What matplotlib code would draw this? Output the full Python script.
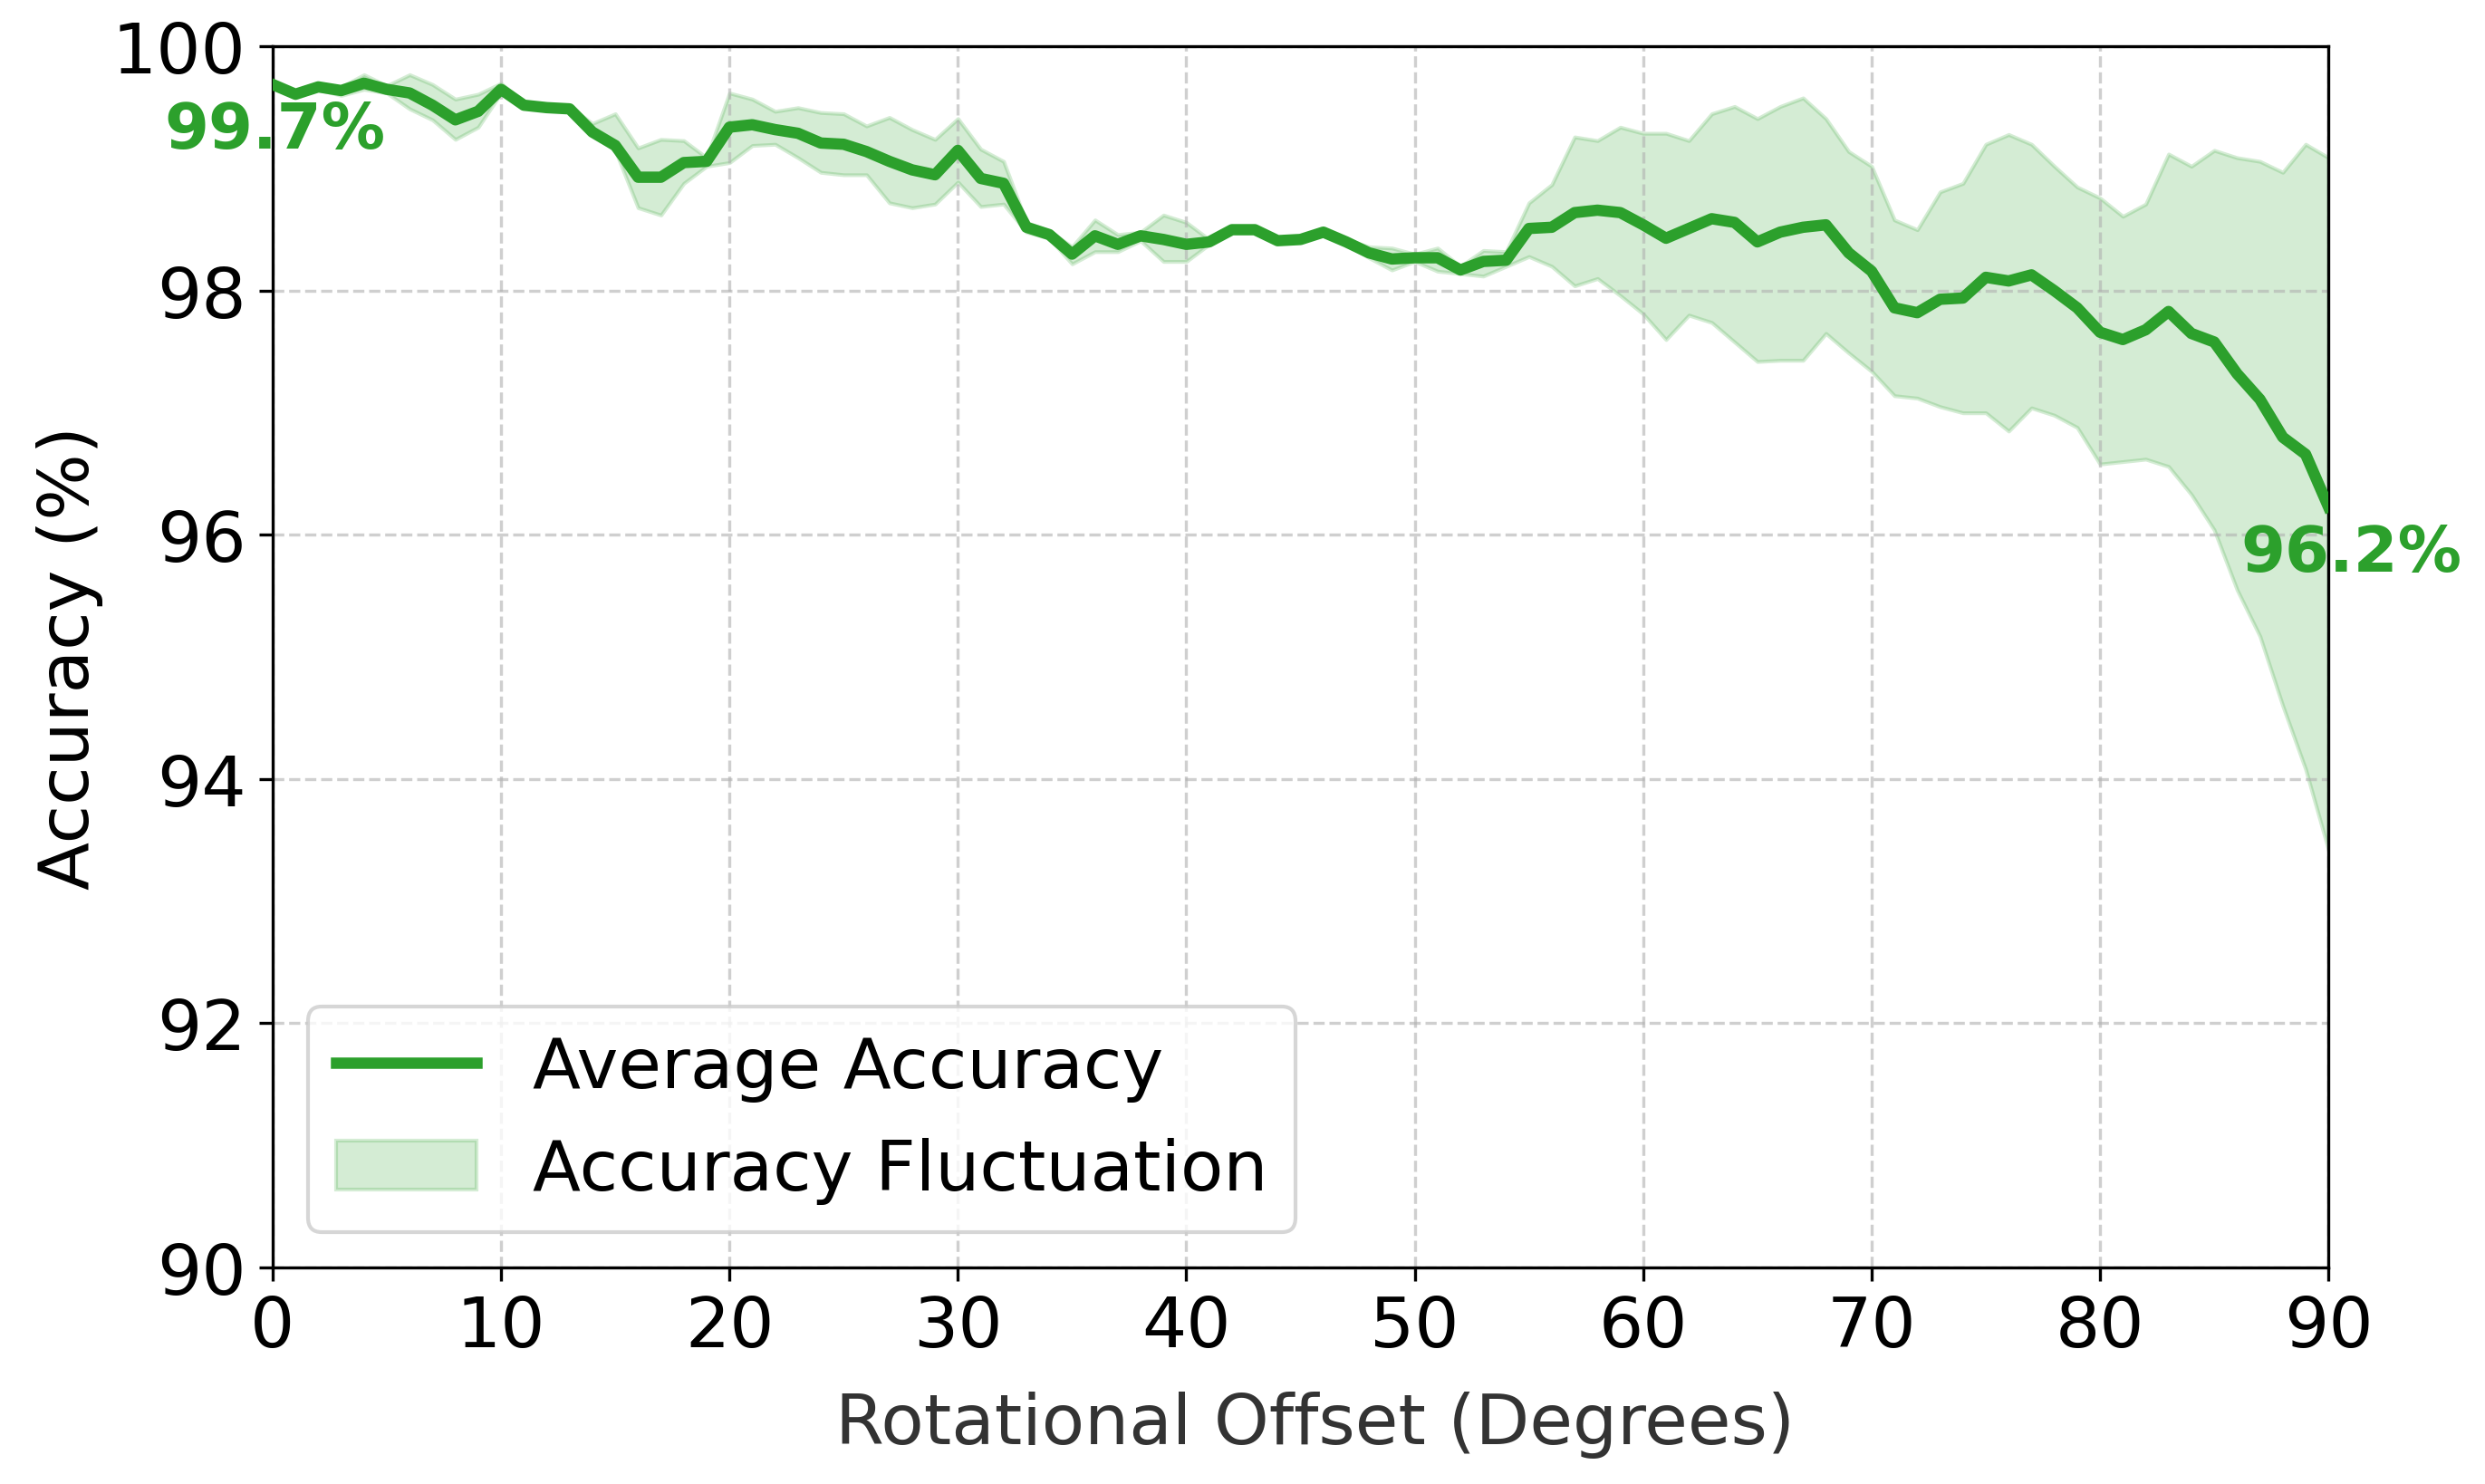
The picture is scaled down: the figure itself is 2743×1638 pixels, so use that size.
import numpy as np
import matplotlib
matplotlib.use("Agg")
import matplotlib.pyplot as plt

# rotational offset in degrees, 0..90 step 1
offsets = list(range(0, 91))

avg_acc = [
    99.69, 99.61, 99.67, 99.64, 99.70, 99.65, 99.62, 99.52, 99.40, 99.47,
    99.65, 99.52, 99.50, 99.49, 99.30, 99.19, 98.93, 98.93, 99.05, 99.06,
    99.34, 99.36, 99.32, 99.29, 99.21, 99.20, 99.14, 99.06, 98.99, 98.95,
    99.15, 98.92, 98.88, 98.52, 98.46, 98.30, 98.45, 98.38, 98.45, 98.42,
    98.38, 98.40, 98.50, 98.50, 98.41, 98.42, 98.48, 98.40, 98.31, 98.26,
    98.27, 98.27, 98.17, 98.24, 98.25, 98.51, 98.52, 98.64, 98.66, 98.64,
    98.54, 98.43, 98.51, 98.59, 98.56, 98.40, 98.48, 98.52, 98.54, 98.31,
    98.16, 97.86, 97.82, 97.93, 97.94, 98.11, 98.08, 98.13, 98.00, 97.86,
    97.66, 97.60, 97.68, 97.83, 97.65, 97.58, 97.32, 97.11, 96.80, 96.66,
    96.23,
]

upper_acc = [
    99.71, 99.63, 99.69, 99.67, 99.77, 99.68, 99.77, 99.69, 99.57, 99.61,
    99.70, 99.54, 99.52, 99.51, 99.37, 99.45, 99.17, 99.24, 99.23, 99.09,
    99.62, 99.57, 99.47, 99.50, 99.46, 99.45, 99.35, 99.42, 99.32, 99.24,
    99.41, 99.16, 99.06, 98.56, 98.49, 98.36, 98.58, 98.46, 98.48, 98.62,
    98.56, 98.42, 98.52, 98.52, 98.43, 98.44, 98.50, 98.42, 98.36, 98.35,
    98.30, 98.35, 98.20, 98.33, 98.32, 98.72, 98.87, 99.26, 99.23, 99.34,
    99.29, 99.29, 99.23, 99.45, 99.51, 99.41, 99.51, 99.58, 99.41, 99.14,
    99.02, 98.58, 98.50, 98.81, 98.88, 99.20, 99.28, 99.20, 99.02, 98.85,
    98.76, 98.61, 98.71, 99.12, 99.02, 99.15, 99.09, 99.06, 98.97, 99.20,
    99.09,
]

lower_acc = [
    99.68, 99.58, 99.65, 99.60, 99.65, 99.62, 99.49, 99.40, 99.24, 99.34,
    99.62, 99.50, 99.48, 99.47, 99.28, 99.15, 98.68, 98.62, 98.88, 99.02,
    99.05, 99.19, 99.20, 99.09, 98.97, 98.95, 98.95, 98.72, 98.68, 98.71,
    98.89, 98.69, 98.71, 98.48, 98.43, 98.22, 98.32, 98.32, 98.41, 98.24,
    98.24, 98.38, 98.48, 98.48, 98.39, 98.40, 98.46, 98.38, 98.27, 98.17,
    98.24, 98.16, 98.14, 98.12, 98.20, 98.28, 98.20, 98.04, 98.10, 97.96,
    97.81, 97.60, 97.80, 97.74, 97.58, 97.42, 97.43, 97.43, 97.65, 97.49,
    97.34, 97.14, 97.12, 97.05, 97.00, 97.00, 96.85, 97.04, 96.98, 96.88,
    96.58, 96.60, 96.62, 96.56, 96.33, 96.04, 95.55, 95.17, 94.60, 94.08,
    93.42,
]

green = '#2ca02c'

fig, ax = plt.subplots(figsize=(2743 / 300, 1639 / 300), dpi=300)
fig.subplots_adjust(left=0.1097, right=0.937, top=0.968, bottom=0.146)

ax.plot(offsets, avg_acc, color=green, linewidth=3, label='Average Accuracy', zorder=3)
ax.fill_between(offsets, lower_acc, upper_acc, color=green, alpha=0.2,
                label='Accuracy Fluctuation')

# start / end value labels
ax.text(offsets[0] + 0.1, avg_acc[0] - 0.37, f'{avg_acc[0]:.1f}%', color=green, fontsize=16.9,
        fontweight='bold', ha='center', va='center', clip_on=False)
ax.text(offsets[-1] + 1.0, avg_acc[-1] - 0.38, f'{avg_acc[-1]:.1f}%', color=green, fontsize=16.9,
        fontweight='bold', ha='center', va='center', clip_on=False)

ax.set_xlim(0, 90)
ax.set_ylim(90, 100)
ax.set_xticks(range(0, 91, 10))
ax.set_yticks(range(90, 101, 2))
ax.tick_params(labelsize=18.6)

ax.set_xlabel('Rotational Offset (Degrees)', fontsize=18.6, color='#333333', x=0.507, labelpad=8)
ax.set_ylabel('Accuracy (%)', fontsize=18.6, labelpad=2.5)
ax.grid(True, linestyle='--', alpha=0.6)

ax.legend(loc='lower left', fontsize=18.6)

fig.savefig('out.png', dpi=300)
